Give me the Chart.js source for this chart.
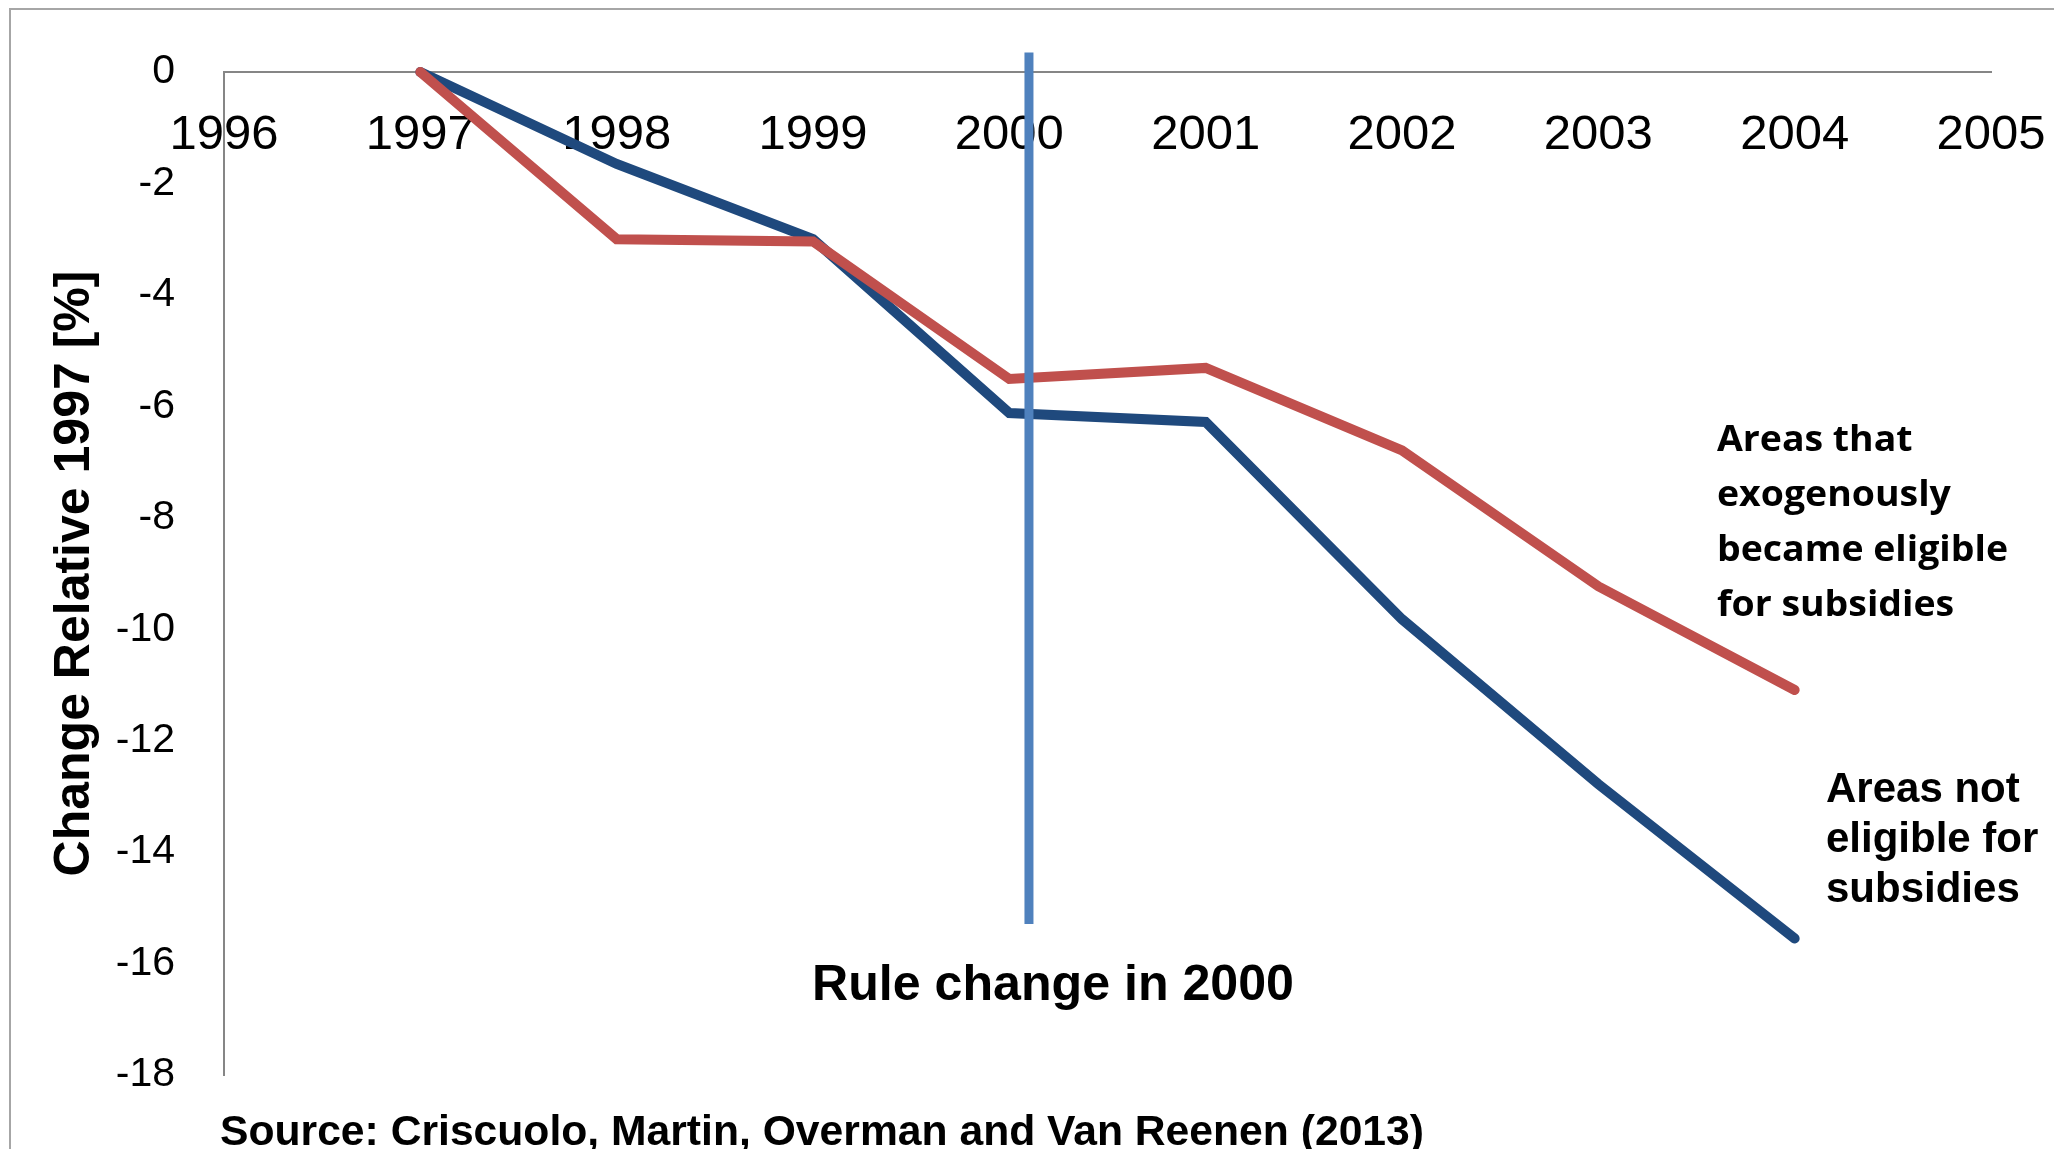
<!DOCTYPE html>
<html>
<head>
<meta charset="utf-8">
<script src="https://cdn.jsdelivr.net/npm/chart.js@4.4.1/dist/chart.umd.min.js"></script>
<style>
  body { margin: 0; background: #fff; }
  canvas { display: block; }
</style>
</head>
<body>
<canvas id="chart" width="2054" height="1149"></canvas>
<script>
// values
const years = [1997, 1998, 1999, 2000, 2001, 2002, 2003, 2004];
const eligible = [0, -3.0, -3.04, -5.51, -5.31, -6.79, -9.23, -11.09];
const notEligible = [0, -1.65, -3.0, -6.12, -6.28, -9.82, -12.78, -15.55];
const xTickLabels = ['1996', '1997', '1998', '1999', '2000', '2001', '2002', '2003', '2004', '2005'];
const yTickLabels = ['0', '-2', '-4', '-6', '-8', '-10', '-12', '-14', '-16', '-18'];
// the "rule change" marker line (drawn slightly right of 2000, as in the picture)
const ruleX = [2000.1, 2000.1];
const ruleY = [0.35, -15.29];

const toPoints = (xs, ys) => xs.map((x, i) => ({ x: x, y: ys[i] }));

// draw a text squeezed/stretched to a given width
function fitText(ctx, text, x, y, font, width) {
    ctx.save();
    ctx.font = font;
    const w = ctx.measureText(text).width;
    ctx.translate(x, y);
    ctx.scale(width ? width / w : 1, 1);
    ctx.fillText(text, 0, 0);
    ctx.restore();
}

const notes = {
    id: 'notes',
    beforeDraw(chart) {
        const ctx = chart.ctx;
        ctx.save();
        ctx.strokeStyle = '#a6a6a6';
        ctx.lineWidth = 2;
        ctx.strokeRect(10, 9, 2200, 1300);
        ctx.restore();
    },
    afterDraw(chart) {
        const ctx = chart.ctx;
        ctx.save();
        ctx.fillStyle = '#000';
        ctx.textBaseline = 'alphabetic';
        ctx.textAlign = 'left';

        // label for red line (Calibri-like)
        const sansFont = 'bold 36px "Open Sans"';
        ctx.font = sansFont;
        const k = 291 / ctx.measureText('became eligible').width;
        const redLines = ['Areas that', 'exogenously', 'became eligible', 'for subsidies'];
        redLines.forEach((t, i) => {
            ctx.save();
            ctx.translate(1717, 451 + i * 55);
            ctx.scale(k, 1);
            ctx.font = sansFont;
            ctx.fillText(t, 0, 0);
            ctx.restore();
        });

        // label for blue line
        const blueLines = ['Areas not', 'eligible for', 'subsidies'];
        blueLines.forEach((t, i) => {
            ctx.font = 'bold 42px "Liberation Sans", Arial';
            ctx.fillText(t, 1826, 802 + i * 50);
        });

        fitText(ctx, 'Rule change in 2000', 812, 1000, 'bold 50px "Liberation Sans", Arial', 482);
        fitText(ctx, 'Source: Criscuolo, Martin, Overman and Van Reenen (2013)', 220, 1145,
            'bold 42px "Liberation Sans", Arial', 1204);
        ctx.restore();
    }
};

Chart.defaults.font.family = '"Liberation Sans", Arial, sans-serif';
Chart.defaults.color = '#000';

const ctx = document.getElementById('chart').getContext('2d');

const chart = new Chart(ctx, {
    type: 'line',
    data: {
        datasets: [
            {
                label: 'Rule change',
                data: toPoints(ruleX, ruleY),
                borderColor: '#4f81bd',
                borderWidth: 9,
                pointRadius: 0,
                clip: false,
            },
            {
                label: 'Areas that exogenously became eligible for subsidies',
                data: toPoints(years, eligible),
                borderColor: '#c0504d',
                borderWidth: 10,
                borderCapStyle: 'round',
                pointRadius: 0,
                tension: 0,
                clip: false,
            },
            {
                label: 'Areas not eligible for subsidies',
                data: toPoints(years, notEligible),
                borderColor: '#1f497d',
                borderWidth: 10,
                borderCapStyle: 'round',
                pointRadius: 0,
                tension: 0,
                clip: false,
            },
        ],
    },
    options: {
        responsive: false,
        animation: false,
        layout: {
            padding: { left: 0, top: 72, right: 63, bottom: 74 },
        },
        plugins: {
            legend: { display: false },
            tooltip: { enabled: false },
        },
        scales: {
            x: {
                type: 'linear',
                position: { y: 0 },
                min: 1996,
                max: 2005,
                grid: { display: false, drawTicks: false },
                border: { display: true, color: '#868686', width: 2 },
                ticks: {
                    stepSize: 1,
                    padding: 34,
                    font: { size: 49 },
                    maxRotation: 0,
                    autoSkip: false,
                    callback: (v) => xTickLabels[v - 1996],
                },
                afterFit: (scale) => {
                    scale.paddingLeft = 0;
                    scale.paddingRight = 0;
                },
            },
            y: {
                min: -18,
                max: 0,
                grid: { display: false, drawTicks: false },
                border: { display: true, color: '#868686', width: 2 },
                ticks: {
                    stepSize: 2,
                    padding: 49,
                    font: { size: 41 },
                    callback: (v) => yTickLabels[-v / 2],
                },
                title: {
                    display: true,
                    text: 'Change Relative 1997 [%]',
                    font: { size: 50, weight: 'bold' },
                    padding: { top: 45 },
                },
                afterFit: (scale) => {
                    scale.width = 224;
                    scale.paddingTop = 0;
                    scale.paddingBottom = 0;
                },
            },
        },
    },
    plugins: [notes],
});
</script>
</body>
</html>
